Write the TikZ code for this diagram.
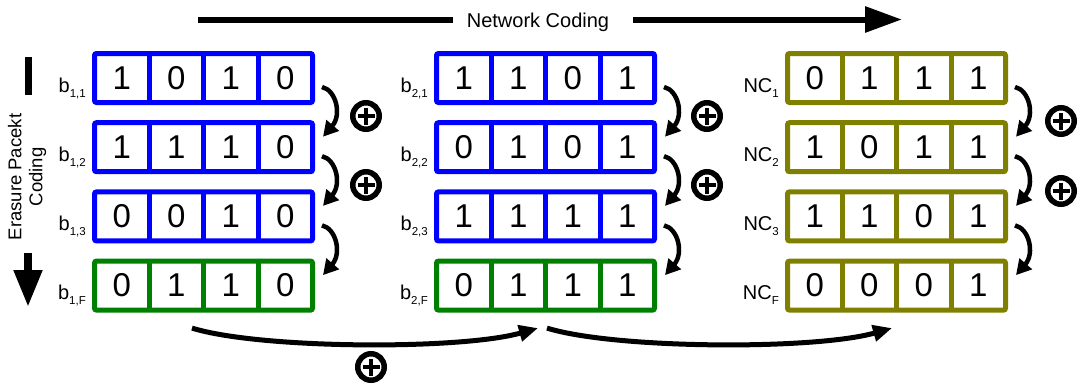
\documentclass[tikz,border=0pt]{standalone}
\usepackage{fontspec}
\setmainfont{Liberation Sans}
\usetikzlibrary{arrows.meta}
\definecolor{cblue}{RGB}{0,0,255}
\definecolor{cgreen}{RGB}{0,128,0}
\definecolor{colive}{RGB}{128,128,0}
\tikzset{
  rowbox/.style={draw=#1, line width=5pt, rounded corners=2pt, minimum width=218pt, minimum height=49pt, inner sep=0pt, outer sep=0pt},
  bit/.style={font=\fontsize{33}{33}\selectfont, inner sep=0pt},
  lbl/.style={font=\fontsize{20}{20}\selectfont, inner sep=0pt, anchor=base east},
  xorarrow/.style={line width=4.5pt, -{Triangle[length=15pt,width=16pt]}},
  bigarrow/.style={line width=5pt, -{Triangle[length=19pt,width=16pt]}},
  xorcircle/.style={circle, draw, line width=5.5pt, minimum size=26.5pt, inner sep=0pt, outer sep=0pt},
}
\newcommand\lblsub[1]{\raisebox{-5pt}{\fontsize{11.5}{11.5}\selectfont #1}}
\newcommand\bitrow[7]{%
  \node[rowbox=#4, anchor=west] (#1) at (#2,#3) {};
  \foreach \k in {1,2,3} \draw[#4, line width=5pt] ([xshift=\k*54.5pt]#1.north west) -- ([xshift=\k*54.5pt]#1.south west);
  \foreach \d [count=\k from 0] in {#7} \node[bit] (#1-\k) at ([xshift=27.25pt+\k*54.5pt]#1.west) {\d};
  \node[lbl] (#1-lbl) at ([shift={(-8.5,14)}]#1.west) {#5\lblsub{#6}};
}
\newcommand\xorsym[3]{%
  \node[xorcircle] (#1) at (#2,#3) {};
  \draw[line width=3.5pt] ([xshift=-8.5pt]#1.center) -- ([xshift=8.5pt]#1.center);
  \draw[line width=3.5pt] ([yshift=-8.5pt]#1.center) -- ([yshift=8.5pt]#1.center);
}
\begin{document}
\begin{tikzpicture}[x=1pt,y=-1pt]
\useasboundingbox (0,0) rectangle (1079,383);
% block 1
\bitrow{b11}{94.5}{78}{cblue}{b}{1,1}{1,0,1,0}
\bitrow{b12}{94.5}{147.2}{cblue}{b}{1,2}{1,1,1,0}
\bitrow{b13}{94.5}{216.4}{cblue}{b}{1,3}{0,0,1,0}
\bitrow{b1F}{94.5}{285.6}{cgreen}{b}{1,F}{0,1,1,0}
% block 2
\bitrow{b21}{436.5}{78}{cblue}{b}{2,1}{1,1,0,1}
\bitrow{b22}{436.5}{147.2}{cblue}{b}{2,2}{0,1,0,1}
\bitrow{b23}{436.5}{216.4}{cblue}{b}{2,3}{1,1,1,1}
\bitrow{b2F}{436.5}{285.6}{cgreen}{b}{2,F}{0,1,1,1}
% block 3
\bitrow{n1}{787.5}{78}{colive}{NC}{1}{0,1,1,1}
\bitrow{n2}{787.5}{147.2}{colive}{NC}{2}{1,0,1,1}
\bitrow{n3}{787.5}{216.4}{colive}{NC}{3}{1,1,0,1}
\bitrow{nF}{787.5}{285.6}{colive}{NC}{F}{0,0,0,1}
% side arrows
\foreach \a/\b in {b11/b12,b12/b13,b13/b1F,b21/b22,b22/b23,b23/b2F,n1/n2,n2/n3,n3/nF}
  \draw[xorarrow] ([shift={(9.5,9)}]\a.east) .. controls +(14,3) and +(19,-22) .. ([shift={(10.5,-10.5)}]\b.east);
% xor symbols
\xorsym{x1}{366}{116}
\xorsym{x2}{366}{185}
\xorsym{x3}{707}{116}
\xorsym{x4}{707}{185}
\xorsym{x5}{1061}{121}
\xorsym{x6}{1061}{191}
\xorsym{x7}{371}{367}
% bottom arrows
\draw[bigarrow] ([shift={(-11.5,18)}]b1F.south) .. controls +(68,21) and +(-78,22) .. ([shift={(-7.5,18)}]b2F.south);
\draw[bigarrow] ([shift={(1.5,18)}]b2F.south) .. controls +(68,21) and +(-78,22) .. ([shift={(-4.5,18)}]nF.south);
% top arrow
\node[font=\fontsize{20}{20}\selectfont, inner sep=0pt, anchor=base] (nc) at (538,27) {Network Coding};
\coordinate (t1) at (198,19.5);
\coordinate (t1a) at (453,19.5);
\coordinate (t2a) at (633,19.5);
\coordinate (t2) at (902,19.5);
\draw[line width=6pt] (t1) -- (t1a);
\draw[line width=6pt, -{Triangle[length=37pt,width=25pt]}] (t2a) -- (t2);
% left arrow
\coordinate (l1) at (28,57);
\coordinate (l2) at (28,95);
\coordinate (l3) at (28,253);
\coordinate (l4) at (28,307);
\draw[line width=7pt] (l1) -- (l2);
\node[rotate=90, font=\fontsize{18.5}{21}\selectfont, align=center, inner sep=0pt] (ep) at (27,177) {Erasure Pacekt\\Coding};
\draw[line width=8pt, -{Triangle[length=37pt,width=27pt]}] (l3) -- (l4);
\end{tikzpicture}
\end{document}
